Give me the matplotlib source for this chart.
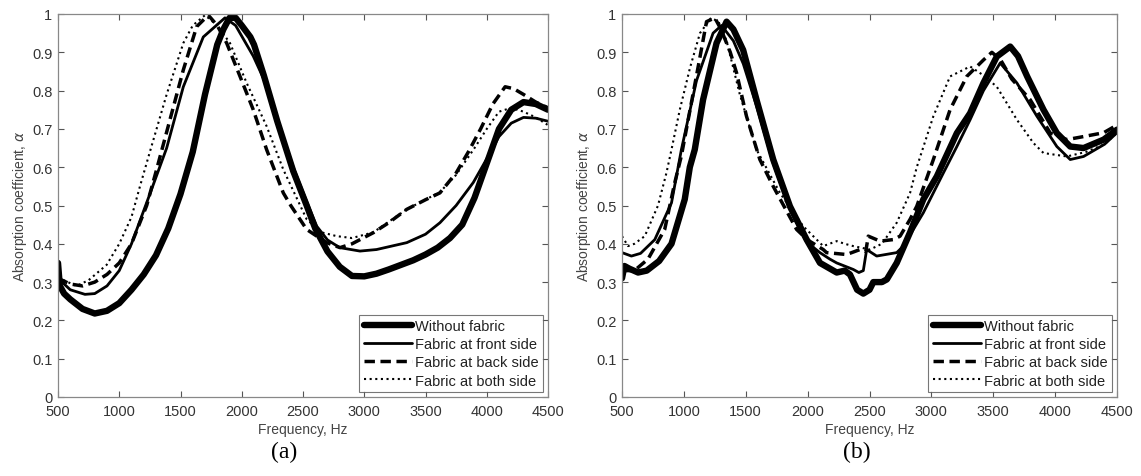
import matplotlib
matplotlib.use("Agg")
import matplotlib.pyplot as plt
from matplotlib.ticker import FuncFormatter

# ---------------- data: panel (a) ----------------
fa_without = [500, 515, 550, 600, 700, 800, 900, 1000, 1100, 1200, 1300, 1400, 1500, 1600, 1700, 1800,
              1850, 1900, 1950, 2000, 2070, 2100, 2180, 2290, 2420, 2530, 2600, 2700, 2800, 2900, 3000,
              3100, 3200, 3300, 3400, 3500, 3600, 3700, 3800, 3900, 4000, 4100, 4200,
              4300, 4400, 4500]
aa_without = [0.35, 0.29, 0.27, 0.255, 0.23, 0.218, 0.225, 0.245, 0.28, 0.32, 0.37, 0.44, 0.53, 0.64,
              0.79, 0.92, 0.96, 0.99, 0.99, 0.97, 0.94, 0.92, 0.84, 0.72, 0.59, 0.50, 0.44, 0.38, 0.34,
              0.316, 0.315, 0.322, 0.333, 0.345, 0.357, 0.372, 0.39, 0.415, 0.45, 0.52, 0.61,
              0.70, 0.75, 0.77, 0.765, 0.75]

fa_front = [500, 600, 720, 800, 900, 1000, 1100, 1169, 1250, 1387, 1523, 1686, 1863, 1950, 2094, 2180,
            2290, 2420, 2530, 2612, 2700, 2800, 2965, 3100, 3347, 3500, 3618, 3750, 3890, 4027, 4100,
            4200, 4300, 4400, 4500]
aa_front = [0.31, 0.28, 0.268, 0.27, 0.29, 0.33, 0.40, 0.46, 0.53, 0.65, 0.81, 0.94, 0.99, 0.97, 0.89,
            0.83, 0.72, 0.60, 0.51, 0.446, 0.41, 0.39, 0.381, 0.385, 0.403, 0.425, 0.455, 0.50, 0.56,
            0.637, 0.68, 0.715, 0.73, 0.728, 0.72]

fa_back = [500, 600, 700, 800, 900, 1000, 1100, 1224, 1305, 1414, 1523, 1632, 1727, 1800, 1877, 1986,
           2094, 2203, 2339, 2400, 2530, 2693, 2802, 2900, 3074, 3200, 3347, 3500, 3618, 3750, 3850,
           3950, 4050, 4150, 4220, 4300, 4400, 4500]
aa_back = [0.31, 0.295, 0.29, 0.30, 0.32, 0.35, 0.40, 0.50, 0.594, 0.724, 0.854, 0.967, 0.997, 0.97,
           0.924, 0.837, 0.75, 0.646, 0.533, 0.50, 0.4375, 0.403, 0.39, 0.40, 0.429, 0.455, 0.49,
           0.515, 0.533, 0.585, 0.64, 0.70, 0.765, 0.81, 0.805, 0.79, 0.77, 0.755]

fa_both = [500, 530, 652, 750, 897, 1000, 1100, 1169, 1250, 1387, 1523, 1600, 1700, 1800, 1904, 2040,
           2203, 2339, 2530, 2650, 2775, 2900, 3074, 3347, 3618, 3750, 3900, 4000, 4100, 4200, 4300,
           4400, 4500]
aa_both = [0.33, 0.307, 0.29, 0.305, 0.345, 0.40, 0.47, 0.55, 0.64, 0.79, 0.924, 0.97, 0.997, 0.97,
           0.924, 0.82, 0.707, 0.594, 0.464, 0.43, 0.42, 0.415, 0.43, 0.49, 0.535, 0.58, 0.65, 0.70,
           0.745, 0.755, 0.745, 0.73, 0.71]

# ---------------- data: panel (b) ----------------
fb_without = [500, 520, 560, 630, 700, 800, 900, 1007, 1048, 1088, 1155, 1264, 1345, 1400, 1479, 1587,
              1722, 1857, 1992, 2100, 2235, 2300, 2342, 2400, 2450, 2500, 2531, 2600, 2640, 2720, 2828,
              2935, 3044, 3206, 3313, 3421, 3529, 3637, 3700, 3774, 3906, 4014, 4122, 4230, 4392, 4500]
ab_without = [0.31, 0.342, 0.335, 0.325, 0.33, 0.355, 0.40, 0.516, 0.60, 0.646, 0.776, 0.924, 0.98,
              0.96, 0.906, 0.776, 0.62, 0.498, 0.411, 0.35, 0.325, 0.33, 0.32, 0.28, 0.27, 0.28, 0.30,
              0.30, 0.307, 0.35, 0.43, 0.516, 0.576, 0.689, 0.741, 0.82, 0.889, 0.915, 0.89, 0.837,
              0.75, 0.689, 0.654, 0.65, 0.672, 0.698]

fb_front = [500, 576, 650, 765, 900, 980, 1102, 1236, 1304, 1400, 1480, 1587, 1722, 1857, 1992, 2099,
            2180, 2235, 2369, 2414, 2450, 2477, 2558, 2720, 2774, 2935, 3097, 3206, 3313, 3421, 3556,
            3691, 3853, 4014, 4122, 4230, 4400, 4500]
ab_front = [0.377, 0.368, 0.375, 0.411, 0.507, 0.646, 0.826, 0.95, 0.97, 0.93, 0.87, 0.76, 0.61, 0.49,
            0.405, 0.377, 0.36, 0.35, 0.333, 0.325, 0.33, 0.385, 0.368, 0.377, 0.394, 0.481, 0.585,
            0.654, 0.724, 0.80, 0.872, 0.82, 0.733, 0.654, 0.62, 0.628, 0.66, 0.69]

fb_back = [500, 600, 710, 845, 926, 980, 1050, 1120, 1183, 1250, 1300, 1375, 1426, 1506, 1614, 1722,
           1911, 2000, 2126, 2153, 2315, 2423, 2470, 2490, 2585, 2693, 2747, 2828, 2882, 3016, 3151,
           3286, 3421, 3489, 3560, 3650, 3799, 3961, 4095, 4230, 4392, 4500]
ab_back = [0.33, 0.33, 0.36, 0.4375, 0.559, 0.63, 0.75, 0.87, 0.98, 0.99, 0.96, 0.90, 0.846, 0.733,
           0.62, 0.55, 0.4375, 0.41, 0.385, 0.377, 0.372, 0.385, 0.38, 0.42, 0.407, 0.411, 0.42, 0.464,
           0.498, 0.62, 0.75, 0.837, 0.88, 0.90, 0.88, 0.83, 0.776, 0.689, 0.672, 0.68, 0.69, 0.71]

fb_both = [500, 549, 600, 684, 791, 859, 900, 967, 1050, 1130, 1220, 1280, 1345, 1452, 1587, 1776,
           1964, 2126, 2235, 2300, 2369, 2504, 2600, 2720, 2828, 2882, 3016, 3151, 3313, 3420, 3529,
           3691, 3825, 3906, 4095, 4250, 4400, 4500]
ab_both = [0.42, 0.394, 0.40, 0.42, 0.50, 0.585, 0.646, 0.75, 0.86, 0.95, 0.99, 0.98, 0.93, 0.79,
           0.646, 0.533, 0.446, 0.394, 0.407, 0.40, 0.394, 0.385, 0.40, 0.455, 0.533, 0.60, 0.733,
           0.837, 0.863, 0.84, 0.81, 0.724, 0.663, 0.637, 0.628, 0.64, 0.66, 0.69]

labels = ["Without fabric", "Fabric at front side", "Fabric at back side", "Fabric at both side"]
xticks = [500, 1000, 1500, 2000, 2500, 3000, 3500, 4000, 4500]
yticks = [0, 0.1, 0.2, 0.3, 0.4, 0.5, 0.6, 0.7, 0.8, 0.9, 1.0]
captions = ["(a)", "(b)"]

plt.rcParams['font.family'] = ['Liberation Sans', 'DejaVu Sans']

fig = plt.figure(figsize=(11.41, 4.77), dpi=100)
W, H = 1141, 477
axes_px = [(58, 15, 490, 383), (622, 15, 495, 383)]
caption_x = [284, 857]

panels = [
    [(fa_without, aa_without), (fa_front, aa_front), (fa_back, aa_back), (fa_both, aa_both)],
    [(fb_without, ab_without), (fb_front, ab_front), (fb_back, ab_back), (fb_both, ab_both)],
]
styles = [
    dict(color='black', lw=4.6, ls='-'),
    dict(color='black', lw=2.0, ls='-'),
    dict(color='black', lw=2.5, ls=(0, (3, 1.6))),
    dict(color='black', lw=1.5, ls=(0, (1, 1.7))),
]

gray = '#555555'
fmt = FuncFormatter(lambda v, p: ('%g' % round(v, 2)))

for i, (px, py, pw, ph) in enumerate(axes_px):
    ax = fig.add_axes([px / W, 1 - (py + ph) / H, pw / W, ph / H])
    for (f, a), st, lab in zip(panels[i], styles, labels):
        ax.plot(f, a, label=lab, solid_capstyle='round', dash_capstyle='butt', **st)
    ax.set_xlim(500, 4500)
    ax.set_ylim(0, 1)
    ax.set_xticks(xticks)
    ax.set_yticks(yticks)
    ax.yaxis.set_major_formatter(fmt)
    ax.tick_params(direction='in', top=True, right=True, length=4, width=0.8,
                   labelsize=10.5, colors=gray, labelcolor='#333333')
    ax.tick_params(axis='x', pad=5)
    ax.tick_params(axis='y', pad=4)
    for s in ax.spines.values():
        s.set_color('#888888')
        s.set_linewidth(0.9)
    ax.set_xlabel('Frequency, Hz', fontsize=10, color='#444444', labelpad=3)
    ax.set_ylabel(r'Absorption coefficient, $\alpha$', fontsize=10, color='#444444', labelpad=2)
    leg = ax.legend(loc='lower right', bbox_to_anchor=(1.0, 0.0), fontsize=10.5,
                    frameon=True, fancybox=False, handlelength=3.3, handletextpad=0.2,
                    borderpad=0.3, labelspacing=0.28, borderaxespad=0.35)
    leg.get_frame().set_edgecolor('#555555')
    leg.get_frame().set_linewidth(0.8)
    for t in leg.get_texts():
        t.set_color('#222222')
    fig.text(caption_x[i] / W, 1 - 452 / H, captions[i], ha='center', va='center', fontsize=17,
             family='Liberation Serif', color='black')

fig.savefig('out.png', dpi=100)
